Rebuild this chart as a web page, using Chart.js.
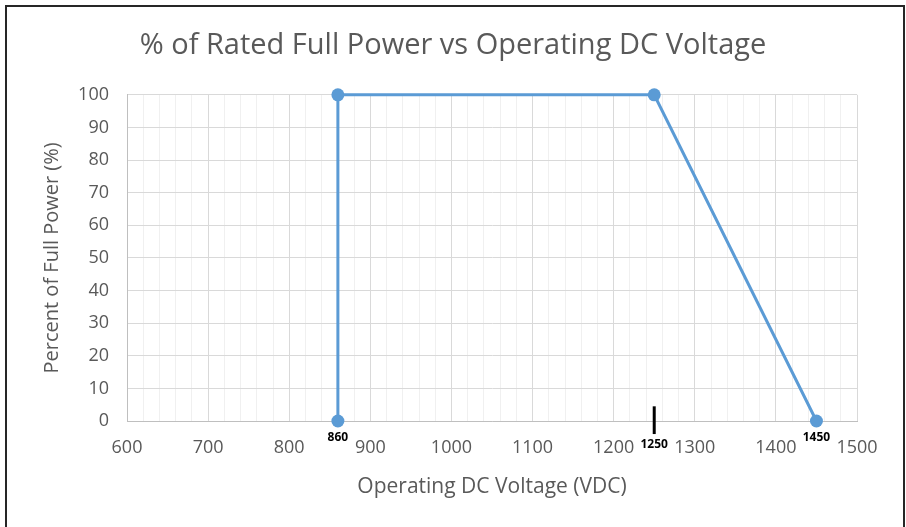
<!DOCTYPE html>
<html>
<head>
<meta charset="utf-8">
<script src="https://cdn.jsdelivr.net/npm/chart.js@4.4.1/dist/chart.umd.min.js"></script>
<style>
  html, body { margin: 0; padding: 0; background: #fff; }
  #wrap { position: relative; width: 906px; height: 527px; overflow: hidden; }
  #frame {
    position: absolute; left: 5px; top: 5px; width: 900px; height: 540px;
    border: 2px solid #262626; box-sizing: border-box;
  }
  #grafico { position: absolute; left: 0; top: 0; }
</style>
</head>
<body>
<div id="wrap">
  <canvas id="grafico" width="906" height="527"></canvas>
  <div id="frame"></div>
</div>
<script>
// curva de potencia: tensao (VDC) x potencia (%)
const tensao = [860, 860, 1250, 1450];
const potencia = [0, 100, 100, 0];

// rotulos dos pontos de corte
const rotulosPontos = [860, 1450];
const marcaTensao = 1250;
const marcaFaixa = [4.5, -4];

const eixoX = { min: 600, max: 1500, passo: 20, principal: 100 };
const eixoY = { min: 0, max: 100, passo: 10 };

const fonte = "'Open Sans', 'Noto Sans', sans-serif";
const cinza = "#595959";

const rotulosPlugin = {
    id: "rotulos",
    afterDatasetsDraw(chart) {
        const ctx = chart.ctx;
        const x = chart.scales.x;
        const y = chart.scales.y;
        ctx.save();

        // marca vertical em 1250
        const mx = x.getPixelForValue(marcaTensao);
        ctx.strokeStyle = "#000";
        ctx.lineWidth = 3;
        ctx.beginPath();
        ctx.moveTo(mx, y.getPixelForValue(marcaFaixa[0]));
        ctx.lineTo(mx, y.getPixelForValue(marcaFaixa[1]));
        ctx.stroke();

        ctx.fillStyle = "#000";
        ctx.font = "bold 12px " + fonte;
        ctx.textAlign = "center";
        ctx.textBaseline = "middle";
        rotulosPontos.forEach(v => {
            ctx.fillText(String(v), x.getPixelForValue(v), y.getPixelForValue(0) + 17);
        });
        ctx.fillText(String(marcaTensao), mx, y.getPixelForValue(0) + 24);
        ctx.restore();
    }
};

function criarGrafico() {
    const ctx = document.getElementById("grafico").getContext("2d");
    const pontos = tensao.map((v, i) => ({ x: v, y: potencia[i] }));

    new Chart(ctx, {
        type: "line",
        data: {
            datasets: [{
                data: pontos,
                borderColor: "#5B9BD5",
                backgroundColor: "#5B9BD5",
                borderWidth: 3,
                pointRadius: 6.5,
                pointHoverRadius: 6.5,
                pointBorderWidth: 0,
                tension: 0,
                clip: false
            }]
        },
        options: {
            responsive: false,
            animation: false,
            layout: { padding: 0 },
            plugins: {
                legend: { display: false },
                tooltip: { enabled: false },
                title: {
                    display: true,
                    text: "% of Rated Full Power vs Operating DC Voltage",
                    color: cinza,
                    font: { family: fonte, size: 29, weight: "normal" },
                    padding: { top: 28, bottom: 32 }
                }
            },
            scales: {
                x: {
                    type: "linear",
                    min: eixoX.min,
                    max: eixoX.max,
                    afterFit(s) { s.height = 106; },
                    ticks: {
                        stepSize: eixoX.passo,
                        autoSkip: false,
                        maxRotation: 0,
                        padding: 16,
                        color: cinza,
                        font: { family: fonte, size: 18 },
                        callback: v => (v % eixoX.principal === 0 ? String(v) : "")
                    },
                    grid: {
                        drawTicks: false,
                        color: c => (c.tick && c.tick.value % eixoX.principal === 0 ? "#D9D9D9" : "#F0F0F0"),
                        lineWidth: 1
                    },
                    border: { color: "#BFBFBF" },
                    title: {
                        display: true,
                        text: "Operating DC Voltage (VDC)",
                        color: cinza,
                        font: { family: fonte, size: 21 },
                        padding: { top: 0, bottom: 27 }
                    }
                },
                y: {
                    min: eixoY.min,
                    max: eixoY.max,
                    afterFit(s) { s.width = 127; },
                    ticks: {
                        stepSize: eixoY.passo,
                        padding: 18,
                        color: cinza,
                        font: { family: fonte, size: 18 }
                    },
                    grid: { drawTicks: false, color: "#D9D9D9" },
                    border: { color: "#BFBFBF" },
                    title: {
                        display: true,
                        text: "Percent of Full Power (%)",
                        color: cinza,
                        font: { family: fonte, size: 20 },
                        padding: { top: 40, bottom: 0 }
                    }
                },
                // margem direita da area de plotagem
                margem: {
                    type: "linear",
                    position: "right",
                    afterFit(s) { s.width = 49; },
                    ticks: { display: false },
                    grid: { display: false, drawTicks: false },
                    border: { display: false }
                }
            }
        },
        plugins: [rotulosPlugin]
    });
}

criarGrafico();
</script>
</body>
</html>
